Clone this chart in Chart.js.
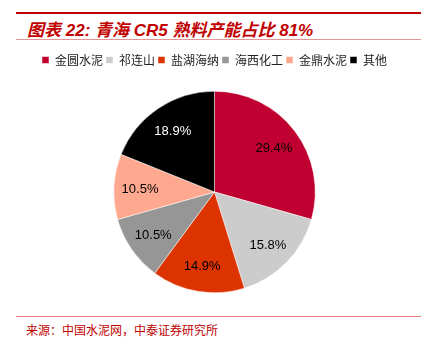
<!DOCTYPE html>
<html>
<head>
<meta charset="utf-8">
<script src="https://cdn.jsdelivr.net/npm/chart.js@4"></script>
<style>
  body { margin: 0; width: 429px; height: 349px; background: #fff; position: relative; overflow: hidden; font-family: "Noto Sans CJK SC", sans-serif; }
  .topline { position: absolute; left: 16px; width: 405px; top: 12px; height: 2px; background: #C00000; }
  .title { position: absolute; left: 27px; top: 16px; font-size: 17px; font-weight: bold; font-style: italic; color: #C00000; white-space: nowrap; font-family: "Liberation Sans", "Noto Sans CJK SC", sans-serif; }
  .subline { position: absolute; left: 16px; width: 405px; top: 39px; height: 1px; background: #E49494; }
  .srcline { position: absolute; left: 16px; width: 405px; top: 316px; height: 1px; background: #E87878; }
  .source { position: absolute; left: 26px; top: 321px; font-size: 12px; color: #C00000; white-space: nowrap; }
  #wrap { position: absolute; left: 0; top: 51px; width: 429px; height: 262px; }
</style>
</head>
<body>
<div class="topline"></div>
<div class="title">图表 22: 青海 CR5 熟料产能占比 81%</div>
<div class="subline"></div>
<div id="wrap"><canvas id="myChart"></canvas></div>
<div class="srcline"></div>
<div class="source">来源：中国水泥网，中泰证券研究所</div>
<script>
const companies = ['金圆水泥', '祁连山', '盐湖海纳', '海西化工', '金鼎水泥', '其他'];
const shares = [29.4, 15.8, 14.9, 10.5, 10.5, 18.9];
const colores = ['#C00030', '#CCCCCC', '#DD3300', '#969696', '#FFA890', '#000000'];
const labelColors = ['#000', '#000', '#000', '#000', '#000', '#fff'];

// espacio extra bajo la leyenda
const legendMargin = {
    id: 'legendMargin',
    beforeInit(chart) {
        const fit = chart.legend.fit;
        chart.legend.fit = function () {
            fit.bind(chart.legend)();
            this.height += 15;
        };
    }
};

// dibuja el porcentaje dentro de cada porción
const sliceLabels = {
    id: 'sliceLabels',
    afterDatasetsDraw(chart) {
        const ctx = chart.ctx;
        const meta = chart.getDatasetMeta(0);
        ctx.save();
        ctx.font = '13px "Liberation Sans", Arial, sans-serif';
        ctx.textAlign = 'center';
        ctx.textBaseline = 'middle';
        meta.data.forEach((arc, i) => {
            const mid = (arc.startAngle + arc.endAngle) / 2;
            const r = arc.outerRadius * 0.74;
            ctx.fillStyle = labelColors[i];
            ctx.fillText(shares[i].toFixed(1) + '%', arc.x + Math.cos(mid) * r, arc.y + Math.sin(mid) * r + 1);
        });
        ctx.restore();
    }
};

new Chart(document.getElementById('myChart'), {
    type: 'pie',
    data: {
        labels: companies,
        datasets: [{
            data: shares,
            backgroundColor: colores,
            borderColor: '#fff',
            borderWidth: 0.5
        }]
    },
    options: {
        responsive: true,
        maintainAspectRatio: false,
        animation: false,
        layout: { padding: { top: 0, bottom: 20 } },
        plugins: {
            legend: {
                position: 'top',
                labels: {
                    boxWidth: 7,
                    boxHeight: 7,
                    padding: 3,
                    color: '#222',
                    font: { size: 12, family: '"Noto Sans CJK SC", sans-serif' }
                }
            },
            tooltip: { enabled: false }
        }
    },
    plugins: [legendMargin, sliceLabels]
});
</script>
</body>
</html>
